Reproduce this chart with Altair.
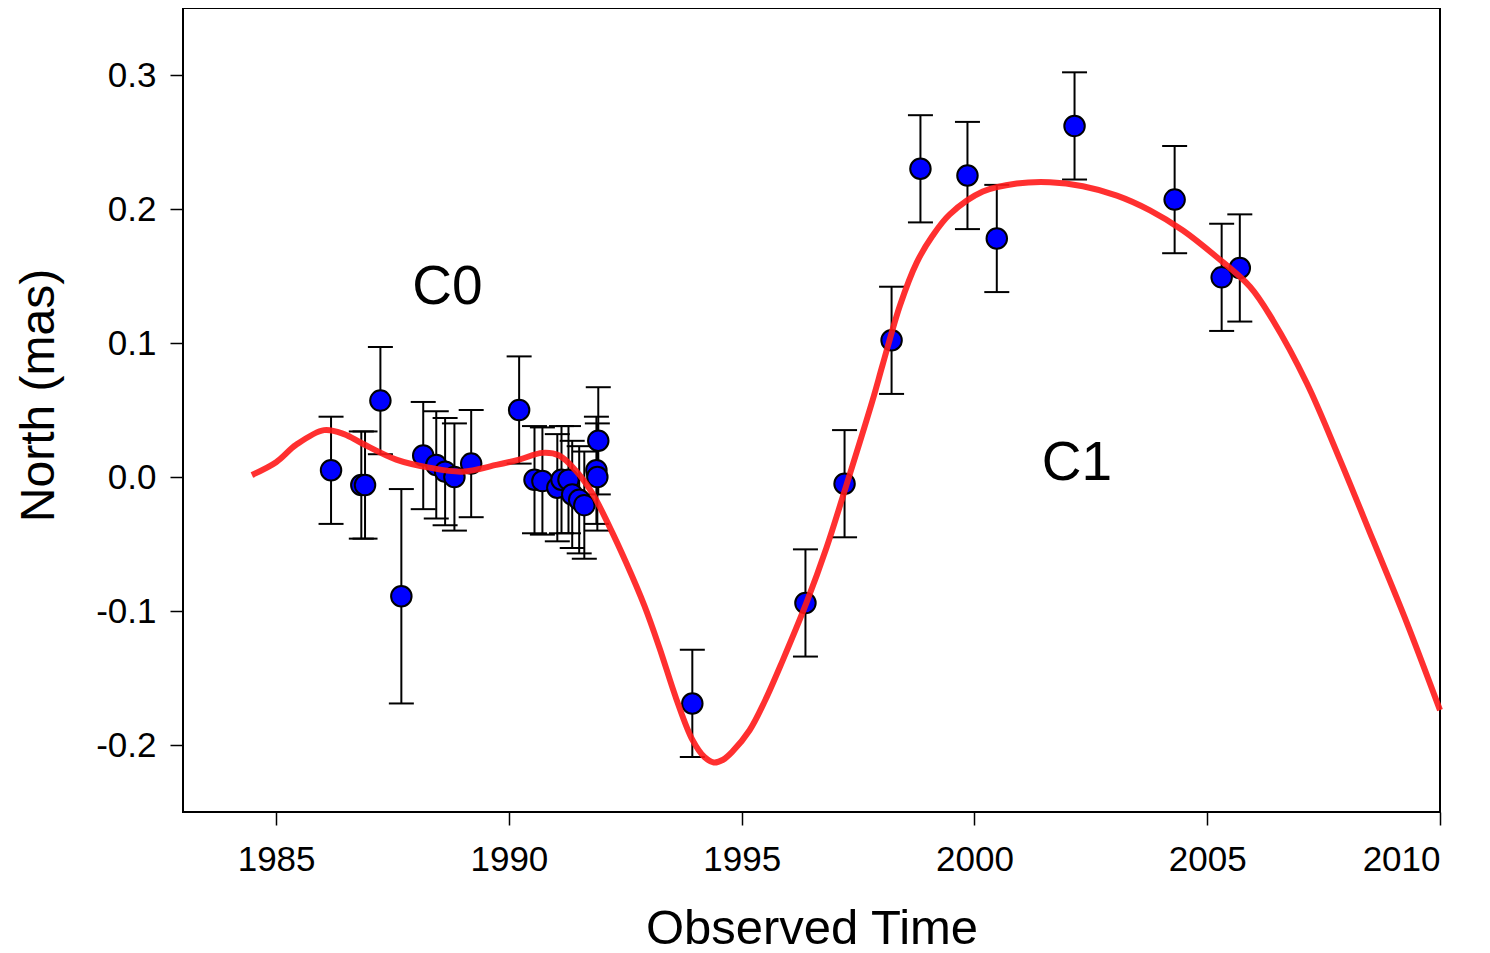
import altair as alt
import pandas as pd

# Observations
obs_year = [1986.18, 1986.83, 1986.91, 1987.24, 1987.69, 1988.16, 1988.44, 1988.63, 1988.83, 1989.19,
            1990.22, 1990.55, 1990.72, 1991.04, 1991.13, 1991.28, 1991.36, 1991.51, 1991.62, 1991.88,
            1991.90, 1991.92, 1993.94, 1996.37, 1997.21, 1998.22, 1998.84, 1999.85, 2000.48, 2002.15,
            2004.30, 2005.31, 2005.70]
obs_north = [0.005, -0.006, -0.006, 0.057, -0.089, 0.016, 0.009, 0.004, 0.0, 0.010,
             0.050, -0.002, -0.003, -0.008, -0.002, -0.002, -0.013, -0.017, -0.021, 0.005,
             0.0, 0.027, -0.169, -0.094, -0.005, 0.102, 0.230, 0.225, 0.178, 0.262,
             0.207, 0.149, 0.156]
obs_err = [0.04, 0.04, 0.04, 0.04, 0.08, 0.04, 0.04, 0.04, 0.04, 0.04,
           0.04, 0.04, 0.04, 0.04, 0.04, 0.04, 0.04, 0.04, 0.04, 0.04,
           0.04, 0.04, 0.04, 0.04, 0.04, 0.04, 0.04, 0.04, 0.04, 0.04,
           0.04, 0.04, 0.04]

# Model curve
fit_year = [1984.48, 1985.0, 1985.43, 1986.03, 1986.46, 1986.85, 1987.58, 1988.29, 1989.0, 1989.73,
            1990.22, 1990.72, 1991.08, 1991.43, 1991.79, 1992.16, 1992.52, 1992.91, 1993.23, 1993.60,
            1993.94, 1994.20, 1994.40, 1994.60, 1994.80, 1995.17, 1995.50, 1995.88, 1996.39, 1996.82,
            1997.25, 1997.81, 1998.03, 1998.40, 1998.76, 1999.10, 1999.47, 2000.18, 2000.91, 2001.62,
            2002.33, 2003.06, 2003.77, 2004.48, 2005.21, 2005.92, 2006.41, 2007.14, 2007.85, 2008.56,
            2009.29, 2010.0]
fit_north = [0.0015, 0.011, 0.024, 0.035, 0.032, 0.025, 0.013, 0.007, 0.004, 0.009,
             0.013, 0.018, 0.016, 0.005, -0.012, -0.037, -0.064, -0.096, -0.127, -0.166,
             -0.196, -0.209, -0.213, -0.211, -0.205, -0.189, -0.167, -0.137, -0.094, -0.053,
             -0.006, 0.057, 0.084, 0.128, 0.160, 0.180, 0.196, 0.213, 0.219, 0.220,
             0.217, 0.210, 0.199, 0.184, 0.164, 0.142, 0.117, 0.070, 0.013, -0.047,
             -0.109, -0.174]

# Annotations
label_text = ["C0", "C1"]
label_year = [1988.68, 2002.2]
label_north = [0.142, 0.0105]

x_ticks = [1985, 1990, 1995, 2000, 2005, 2010]
y_ticks = [-0.2, -0.1, 0.0, 0.1, 0.2, 0.3]

FONT = "Liberation Sans"

obs = pd.DataFrame({"year": obs_year, "north": obs_north, "err": obs_err})
obs["lo"] = obs["north"] - obs["err"]
obs["hi"] = obs["north"] + obs["err"]
fit = pd.DataFrame({"year": fit_year, "north": fit_north})
labels = pd.DataFrame({"text": label_text, "year": label_year, "north": label_north})

xscale = alt.Scale(domain=[1983, 2010], nice=False, zero=False)
yscale = alt.Scale(domain=[-0.25, 0.35], nice=False, zero=False)

xaxis = alt.Axis(values=x_ticks, format="d", title="Observed Time", grid=False, domain=False,
                 tickSize=13, tickWidth=1.5, tickColor="black",
                 labelFontSize=35, labelFont=FONT, labelColor="black", labelPadding=17,
                 titleFontSize=49, titleFont=FONT, titleFontWeight="normal", titleColor="black",
                 titlePadding=27)
yaxis = alt.Axis(values=y_ticks, title="North (mas)", grid=False, domain=False,
                 labelExpr="datum.value < 0 ? '-' + format(abs(datum.value), '.1f') : format(datum.value, '.1f')",
                 tickSize=13, tickWidth=1.5, tickColor="black",
                 labelFontSize=35, labelFont=FONT, labelColor="black", labelPadding=14,
                 titleFontSize=48, titleFont=FONT, titleFontWeight="normal", titleColor="black",
                 titlePadding=32, titleY=387)

base_x = alt.X("year:Q", scale=xscale, axis=xaxis)

bars = alt.Chart(obs).mark_rule(color="black", strokeWidth=2).encode(
    x=base_x,
    y=alt.Y("lo:Q", scale=yscale, axis=yaxis),
    y2="hi:Q",
)
caps_hi = alt.Chart(obs).mark_tick(orient="horizontal", color="black", size=25, thickness=2, opacity=1).encode(
    x=alt.X("year:Q", scale=xscale),
    y=alt.Y("hi:Q", scale=yscale),
)
caps_lo = alt.Chart(obs).mark_tick(orient="horizontal", color="black", size=25, thickness=2, opacity=1).encode(
    x=alt.X("year:Q", scale=xscale),
    y=alt.Y("lo:Q", scale=yscale),
)
points = alt.Chart(obs).mark_point(filled=True, fill="#0000ff", stroke="black", strokeWidth=2,
                                   size=420, opacity=1, fillOpacity=1, shape="circle").encode(
    x=alt.X("year:Q", scale=xscale),
    y=alt.Y("north:Q", scale=yscale),
)
curve = alt.Chart(fit).mark_line(color="#ff1a1a", strokeWidth=6, opacity=0.9, interpolate="catmull-rom").encode(
    x=alt.X("year:Q", scale=xscale),
    y=alt.Y("north:Q", scale=yscale),
)
text = alt.Chart(labels).mark_text(fontSize=55, font=FONT, color="black", align="center", baseline="middle").encode(
    x=alt.X("year:Q", scale=xscale),
    y=alt.Y("north:Q", scale=yscale),
    text="text:N",
)

chart = alt.layer(bars, caps_hi, caps_lo, points, curve, text).properties(
    width=1257, height=804,
    autosize=alt.AutoSizeParams(type="none"),
    padding={"left": 175, "top": 0, "right": 42, "bottom": 140},
).configure(background="white").configure_view(stroke="black", strokeWidth=2)

chart.save("out.html", embed_options={"renderer": "svg", "actions": False})
